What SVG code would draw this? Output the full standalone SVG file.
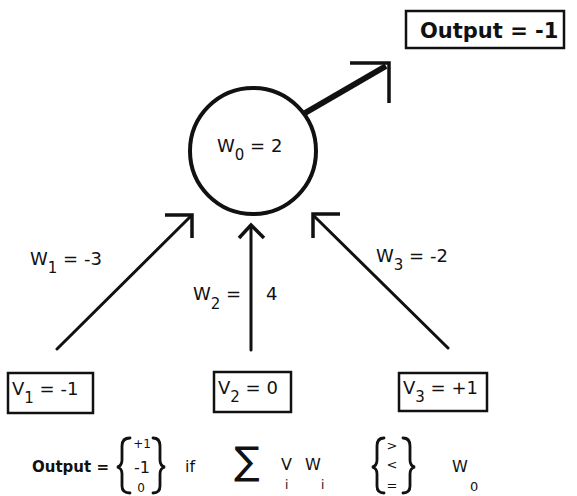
<svg xmlns="http://www.w3.org/2000/svg" width="577" height="496" viewBox="0 0 577 496">
<style>
  text { font-family: "DejaVu Sans", "Liberation Sans", sans-serif; fill: #111; }
  .lbl { font-size: 18px; }
  .sub { font-size: 15px; }
  .box { fill: #fff; stroke: #111; stroke-width: 2.5; }
  .ln { stroke: #111; stroke-width: 3; fill: none; stroke-linecap: round; }
  .head { stroke: #111; stroke-width: 3.5; fill: none; stroke-linecap: butt; stroke-linejoin: miter; }
  .brace { stroke: #111; stroke-width: 2.8; fill: none; stroke-linecap: round; }
</style>
<rect width="577" height="496" fill="#fff"/>

<g id="connectors">
  <line x1="305" y1="113" x2="386" y2="66" stroke="#111" stroke-width="6"/>
  <polyline class="head" points="350,63 389,63 389,103" stroke-width="5"/>
  <line class="ln" x1="57" y1="349" x2="191" y2="216"/>
  <polyline class="head" points="165,215 192,215 192,238"/>
  <line class="ln" x1="251" y1="350" x2="251" y2="226"/>
  <polyline class="head" points="239,238 251,225 264,238"/>
  <line class="ln" x1="448" y1="348" x2="314" y2="216"/>
  <polyline class="head" points="340,214 313,214 313,238"/>
</g>

<g id="edge-labels">
  <text class="lbl" x="30" y="265">W<tspan class="sub" dy="8">1</tspan><tspan dy="-8"> = -3</tspan></text>
  <text class="lbl" x="193" y="300">W<tspan class="sub" dy="9">2</tspan><tspan dy="-9"> =</tspan></text>
  <text class="lbl" x="266" y="300">4</text>
  <text class="lbl" x="376" y="262">W<tspan class="sub" dy="8">3</tspan><tspan dy="-8"> = -2</tspan></text>
</g>

<g id="neuron">
  <circle cx="253" cy="151" r="63" fill="#fff" stroke="#111" stroke-width="4"/>
  <text class="lbl" x="217" y="152">W<tspan class="sub" dy="8">0</tspan><tspan dy="-8"> = 2</tspan></text>
</g>

<g id="output">
  <rect class="box" x="406" y="11" width="158" height="37"/>
  <text x="420" y="38" font-size="21" font-weight="bold">Output = -1</text>
</g>

<g id="v1">
  <rect class="box" x="8" y="373" width="85" height="40"/>
  <text class="lbl" x="12" y="395">V<tspan class="sub" dy="8">1</tspan><tspan dy="-8"> = -1</tspan></text>
</g>

<g id="v2">
  <rect class="box" x="214" y="372" width="77" height="40"/>
  <text class="lbl" x="218" y="394">V<tspan class="sub" dy="8">2</tspan><tspan dy="-8"> = 0</tspan></text>
</g>

<g id="v3">
  <rect class="box" x="399" y="373" width="88" height="38"/>
  <text class="lbl" x="403" y="394">V<tspan class="sub" dy="8">3</tspan><tspan dy="-8"> = +1</tspan></text>
</g>

<g id="formula">
  <text x="32" y="472" font-weight="bold" font-size="15">Output =</text>
  <path class="brace" d="M130,438 Q122,438 122,446 L122,460 Q122,466 117,467 Q122,468 122,474 L122,486 Q122,493 130,493"/>
  <text x="142" y="448" text-anchor="middle" font-size="12">+1</text>
  <text x="142" y="473" text-anchor="middle" font-size="16">-1</text>
  <text x="141" y="492" text-anchor="middle" font-size="12">0</text>
  <path class="brace" d="M153,438 Q160,438 160,446 L160,460 Q160,466 165,467 Q160,468 160,474 L160,486 Q160,493 153,493"/>
  <text x="185" y="472" font-size="16">if</text>
  <text x="234" y="474" font-size="38">∑</text>
  <text x="281" y="470" font-size="16">V</text>
  <text x="285" y="489" font-size="12">i</text>
  <text x="305" y="470" font-size="16">W</text>
  <text x="321" y="489" font-size="12">i</text>
  <path class="brace" d="M384,438 Q377,438 377,446 L377,460 Q377,466 372,467 Q377,468 377,474 L377,486 Q377,493 384,493"/>
  <text x="392" y="450" text-anchor="middle" font-size="13">&gt;</text>
  <text x="392" y="469" text-anchor="middle" font-size="13">&lt;</text>
  <text x="392" y="490" text-anchor="middle" font-size="13">=</text>
  <path class="brace" d="M403,438 Q410,438 410,446 L410,460 Q410,466 415,467 Q410,468 410,474 L410,486 Q410,493 403,493"/>
  <text x="452" y="472" font-size="16">W</text>
  <text x="470" y="491" font-size="13">0</text>
</g>
</svg>
